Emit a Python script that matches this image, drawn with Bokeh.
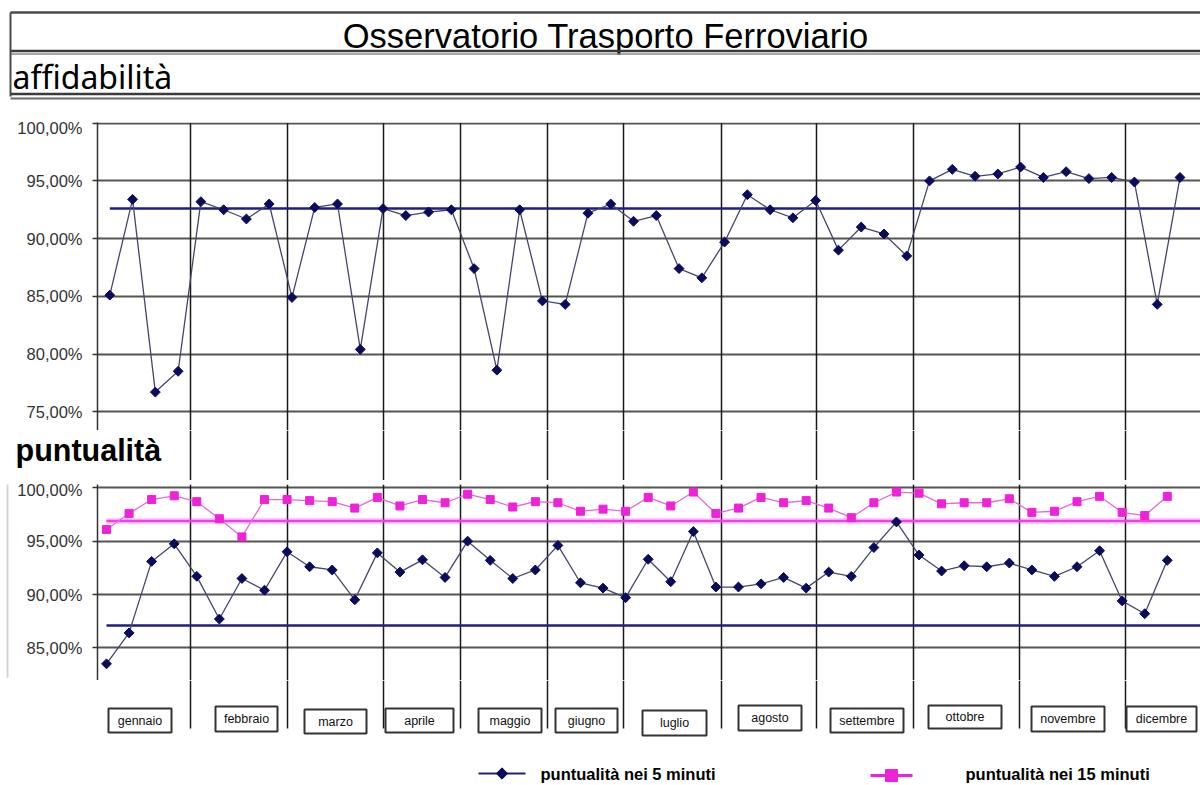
import numpy as np
from bokeh.plotting import figure
from bokeh.layouts import column
from bokeh.models import Range1d, FixedTicker, CustomJSTickFormatter
from bokeh.core.properties import value
from bokeh.embed import file_html
from bokeh.resources import INLINE

# ---------------- data ----------------
title = "Osservatorio  Trasporto Ferroviario"
section_top = "affidabilità"
section_bottom = "puntualità"
months = ["gennaio", "febbraio", "marzo", "aprile", "maggio", "giugno",
          "luglio", "agosto", "settembre", "ottobre", "novembre", "dicembre"]
weeks = list(range(48))

affidabilita = [85.1, 93.4, 76.7, 78.5, 93.2, 92.5, 91.7, 93.0, 84.9, 92.7, 93.0, 80.4,
                92.6, 92.0, 92.3, 92.5, 87.4, 78.6, 92.5, 84.6, 84.3, 92.2, 93.0, 91.5,
                92.0, 87.4, 86.6, 89.7, 93.8, 92.5, 91.8, 93.3, 89.0, 91.0, 90.4, 88.5,
                95.0, 96.0, 95.4, 95.6, 96.2, 95.3, 95.8, 95.2, 95.3, 94.9, 84.3, 95.3]
target_affidabilita = 92.6

puntualita_5 = [83.5, 86.4, 93.1, 94.75, 91.7, 87.7, 91.5, 90.4, 94.0, 92.6, 92.3, 89.5,
                93.9, 92.1, 93.25, 91.6, 95.0, 93.2, 91.5, 92.3, 94.6, 91.1, 90.6, 89.7,
                93.3, 91.2, 95.9, 90.7, 90.7, 91.0, 91.6, 90.6, 92.1, 91.7, 94.4, 96.8,
                93.7, 92.2, 92.7, 92.6, 92.95, 92.3, 91.7, 92.6, 94.1, 89.4, 88.2, 93.2]
target_5 = 87.1

puntualita_15 = [96.1, 97.6, 98.9, 99.25, 98.7, 97.1, 95.4, 98.9, 98.9, 98.8, 98.7, 98.1,
                 99.1, 98.3, 98.9, 98.6, 99.4, 98.9, 98.2, 98.7, 98.6, 97.8, 98.0, 97.8,
                 99.1, 98.3, 99.6, 97.6, 98.1, 99.1, 98.6, 98.8, 98.1, 97.2, 98.6, 99.6,
                 99.5, 98.5, 98.6, 98.6, 98.97, 97.7, 97.8, 98.7, 99.2, 97.7, 97.4, 99.2]
target_15 = 96.9

legend_5 = "puntualità nei 5 minuti"
legend_15 = "puntualità nei 15 minuti"

# ---------------- layout (page pixels) ----------------
W = 1200
PAGE_R = 1200
FRAME_L = 97
month_sep_px = [190, 287, 383, 460, 547, 623, 721, 816, 913, 1019, 1125]
month_box = [(108, 171, 708, 732), (215, 277, 706, 731), (304, 366, 709, 733),
             (385, 453, 708, 732), (478, 541, 708, 732), (555, 617, 708, 732),
             (642, 706, 710, 735), (738, 801, 705, 730), (830, 903, 708, 732),
             (928, 1001, 705, 728), (1031, 1104, 706, 731), (1126, 1196, 706, 731)]
UP_X0, UP_DX = 109.3, 22.77      # upper chart: first week position, step
LO_X0, LO_DX = 106.0, 22.57      # lower chart

NAVY = "#0b0b5c"
NAVY_LINE = "#45456e"
NAVY_REF = "#1f1f80"
PINK = "#ee22d8"
PINK_LINE = "#e56ad9"
PINK_REF = "#f53ee8"
GRID = "#555555"
VLINE = "#1a1a1a"

fmt = CustomJSTickFormatter(code="return tick.toFixed(2).replace('.', ',') + '%';")


def strip(top, bottom):
    p = figure(width=W, height=bottom - top, x_range=Range1d(FRAME_L, PAGE_R),
               y_range=Range1d(bottom, top), output_backend="svg",
               toolbar_location=None, x_axis_type=None, y_axis_type=None,
               min_border_left=FRAME_L, min_border_right=0, min_border_top=0,
               min_border_bottom=0)
    p.outline_line_color = None
    p.background_fill_color = "white"
    p.border_fill_color = "white"
    return p


def chart(top, bottom, y_top_px, px_per_pct, x0px, dx, ticks):
    border_top = 4
    frame_top = top + border_top
    frame_h = bottom - frame_top
    y1 = 100 + (y_top_px - frame_top) / px_per_pct
    y0 = y1 - frame_h / px_per_pct
    xr = Range1d((FRAME_L - x0px) / dx, (PAGE_R - x0px) / dx)
    p = figure(width=W, height=bottom - top, x_range=xr, y_range=Range1d(y0, y1),
               output_backend="svg", toolbar_location=None, x_axis_type=None,
               min_border_left=FRAME_L, min_border_right=0,
               min_border_top=border_top, min_border_bottom=0)
    p.outline_line_color = None
    p.background_fill_color = "white"
    p.border_fill_color = "white"
    p.yaxis.ticker = FixedTicker(ticks=ticks)
    p.ygrid.ticker = FixedTicker(ticks=ticks)
    p.yaxis.formatter = fmt
    p.yaxis.major_label_text_font = "Liberation Sans"
    p.yaxis.major_label_text_font_size = "16.5px"
    p.yaxis.major_label_text_color = "#333333"
    p.yaxis.major_label_standoff = 10
    p.yaxis.major_tick_out = 5
    p.yaxis.major_tick_in = 0
    p.yaxis.minor_tick_line_color = None
    p.yaxis.axis_line_color = "#333333"
    p.yaxis.axis_line_width = 1.5
    p.yaxis.major_tick_line_color = "#333333"
    p.yaxis.major_tick_line_width = 1.5
    p.ygrid.grid_line_color = GRID
    p.ygrid.grid_line_width = 2
    return p, xr, y0, y1


# ---------------- header ----------------
h = strip(0, 118)
r = h.segment(x0=[10] * 5, x1=[PAGE_R] * 5, y0=[12, 50.5, 53.5, 93.5, 98],
              y1=[12, 50.5, 53.5, 93.5, 98],
              line_color=["#4a4a4a", "#3a3a3a", "#8a8a8a", "#3a3a3a", "#6a6a6a"],
              line_width=[2.5, 2.5, 1.5, 2.5, 2])
r.level = "overlay"
r = h.segment(x0=[10], x1=[10], y0=[12], y1=[96], line_color="#4a4a4a", line_width=2)
r.level = "overlay"
h.text(x=[610], y=[35], text=[title], text_font=value("Liberation Sans"), text_font_size="34.5px",
       text_align="center", text_baseline="middle", text_color="#000000")
r = h.text(x=[12], y=[76], text=[section_top], text_font=value("Noto Sans"), text_font_size="32px",
           text_align="left", text_baseline="middle", text_color="#000000")
r.level = "overlay"

# ---------------- upper chart ----------------
up, up_xr, up_y0, up_y1 = chart(118, 430, 122.7, 11.54, UP_X0, UP_DX, [75, 80, 85, 90, 95, 100])
up_sep = [(px - UP_X0) / UP_DX for px in month_sep_px]
up.segment(x0=up_sep, x1=up_sep, y0=[up_y0] * len(up_sep), y1=[100] * len(up_sep),
           line_color=VLINE, line_width=1.5)
up.segment(x0=[weeks[0]], x1=[up_xr.end], y0=[target_affidabilita], y1=[target_affidabilita],
           line_color=NAVY_REF, line_width=2.5)
up.line(weeks, affidabilita, line_color=NAVY_LINE, line_width=1.3)
up.scatter(weeks, affidabilita, marker="square", angle=np.pi / 4, size=7,
           fill_color=NAVY, line_color=NAVY)

# ---------------- middle strip ----------------
mid = strip(430, 480)
mid.segment(x0=month_sep_px, x1=month_sep_px, y0=[430] * len(month_sep_px),
            y1=[480] * len(month_sep_px), line_color=VLINE, line_width=1.5)
r = mid.text(x=[15], y=[449], text=[section_bottom], text_font=value("Liberation Sans"),
             text_font_size="30.5px", text_font_style="bold", text_align="left",
             text_baseline="middle", text_color="#000000")
r.level = "overlay"

# ---------------- lower chart ----------------
lo, lo_xr, lo_y0, lo_y1 = chart(480, 680, 487.3, 10.67, LO_X0, LO_DX, [85, 90, 95, 100])
lo_sep = [(px - LO_X0) / LO_DX for px in month_sep_px]
lo.segment(x0=lo_sep, x1=lo_sep, y0=[lo_y0] * len(lo_sep), y1=[lo_y1] * len(lo_sep),
           line_color=VLINE, line_width=1.5)
edge = (7 - LO_X0) / LO_DX
r = lo.segment(x0=[edge], x1=[edge], y0=[82.2], y1=[lo_y1], line_color="#d4d4d4", line_width=2)
r.level = "overlay"
lo.segment(x0=[weeks[0]], x1=[lo_xr.end], y0=[target_15], y1=[target_15],
           line_color=PINK_REF, line_width=6, line_alpha=0.25)
lo.segment(x0=[weeks[0]], x1=[lo_xr.end], y0=[target_15], y1=[target_15],
           line_color=PINK_REF, line_width=2.5)
lo.segment(x0=[weeks[0]], x1=[lo_xr.end], y0=[target_5], y1=[target_5],
           line_color=NAVY_REF, line_width=2.5)
lo.line(weeks, puntualita_15, line_color=PINK_LINE, line_width=1.3)
lo.scatter(weeks, puntualita_15, marker="square", size=8, fill_color=PINK, line_color=PINK)
lo.line(weeks, puntualita_5, line_color=NAVY_LINE, line_width=1.3)
lo.scatter(weeks, puntualita_5, marker="square", angle=np.pi / 4, size=7,
           fill_color=NAVY, line_color=NAVY)

# ---------------- bottom strip: month labels + legend ----------------
bot = strip(680, 785)
bot.segment(x0=month_sep_px, x1=month_sep_px, y0=[680] * len(month_sep_px),
            y1=[728] * len(month_sep_px), line_color=VLINE, line_width=1.5)
bl = [b[0] for b in month_box]
br = [b[1] for b in month_box]
bt = [b[2] for b in month_box]
bb = [b[3] for b in month_box]
bot.quad(left=bl, right=br, top=bt, bottom=bb, fill_color="white",
         line_color="#333333", line_width=2)
bot.text(x=[(a + b) / 2 for a, b in zip(bl, br)], y=[(a + b) / 2 for a, b in zip(bt, bb)],
         text=months, text_font=value("Liberation Sans"), text_font_size="12.5px",
         text_align="center", text_baseline="middle", text_color="#111111")
# legend
bot.segment(x0=[478], x1=[525], y0=[773], y1=[773], line_color=NAVY_REF, line_width=2)
bot.scatter([501.5], [773], marker="square", angle=np.pi / 4, size=8,
            fill_color=NAVY, line_color=NAVY)
bot.text(x=[540], y=[773], text=[legend_5], text_font=value("Liberation Sans"),
         text_font_size="16.5px", text_font_style="bold", text_align="left",
         text_baseline="middle", text_color="#000000")
bot.segment(x0=[870], x1=[912], y0=[775], y1=[775], line_color=PINK, line_width=3)
bot.scatter([891], [775], marker="square", size=12, fill_color=PINK, line_color=PINK)
bot.text(x=[965], y=[773], text=[legend_15], text_font=value("Liberation Sans"),
         text_font_size="16.5px", text_font_style="bold", text_align="left",
         text_baseline="middle", text_color="#000000")

layout = column(h, up, mid, lo, bot, spacing=0)
open("out.html", "w").write(file_html(layout, INLINE))
